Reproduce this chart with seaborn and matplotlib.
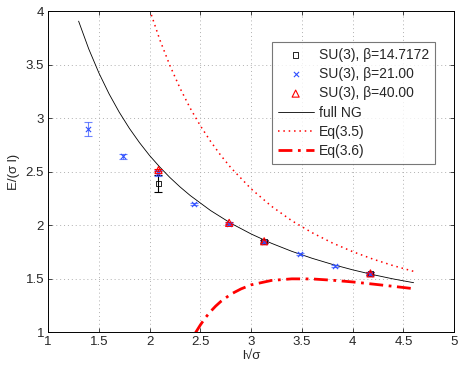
import numpy as np
import pandas as pd
import matplotlib
matplotlib.use("Agg")
import matplotlib.pyplot as plt
import seaborn as sns

# lattice data
x_b147 = [2.087, 3.128, 4.175]
y_b147 = [2.391, 1.848, 1.548]
e_b147 = [0.078, 0.012, 0.015]

x_b21 = [1.391, 1.739, 2.087, 2.435, 2.783, 3.128, 3.483, 3.828, 4.175]
y_b21 = [2.900, 2.643, 2.485, 2.201, 2.008, 1.846, 1.734, 1.622, 1.547]
e_b21 = [0.067, 0.025, 0.030, 0.008, 0.010, 0.010, 0.008, 0.008, 0.010]

x_b40 = [2.087, 2.783, 3.128, 4.175]
y_b40 = [2.515, 2.022, 1.850, 1.550]
e_b40 = [0.012, 0.010, 0.010, 0.010]

# curves
x_ng = [1.3, 1.4, 1.5, 1.6, 1.7, 1.8, 1.9, 2.0, 2.1, 2.2, 2.3, 2.4, 2.6, 2.8,
        3.0, 3.2, 3.4, 3.6, 3.8, 4.0, 4.2, 4.4, 4.6]
y_ng = [3.906, 3.646, 3.422, 3.227, 3.056, 2.905, 2.771, 2.650, 2.543, 2.445,
        2.357, 2.277, 2.137, 2.018, 1.918, 1.831, 1.756, 1.691, 1.634, 1.583,
        1.538, 1.498, 1.463]

x_35 = [2.0, 2.1, 2.2, 2.3, 2.4, 2.5, 2.6, 2.7, 2.8, 3.0, 3.2, 3.4, 3.6, 3.8,
        4.0, 4.2, 4.4, 4.6]
y_35 = [4.012, 3.732, 3.490, 3.278, 3.092, 2.928, 2.783, 2.653, 2.537, 2.339,
        2.177, 2.042, 1.930, 1.834, 1.753, 1.683, 1.622, 1.569]

x_36 = [2.45, 2.5, 2.55, 2.6, 2.65, 2.7, 2.8, 2.9, 3.0, 3.2, 3.4, 3.6, 3.8,
        4.0, 4.2, 4.4, 4.6]
y_36 = [0.993, 1.069, 1.137, 1.194, 1.244, 1.287, 1.356, 1.405, 1.443, 1.484,
        1.499, 1.498, 1.486, 1.470, 1.450, 1.429, 1.407]

sns.set_style("ticks")
plt.rcParams['font.family'] = ['Liberation Sans', 'DejaVu Sans']
plt.rcParams['font.size'] = 9.5

fig = plt.figure(figsize=(4.63, 3.70), dpi=100)
ax = fig.add_axes([0.104, 0.102, 0.877, 0.868])

blue = '#3050ff'

ax.errorbar(x_b147, y_b147, yerr=e_b147, fmt='none', ecolor='black', elinewidth=0.8, capsize=3, capthick=0.8, zorder=3)
ax.errorbar(x_b21, y_b21, yerr=e_b21, fmt='none', ecolor=blue, elinewidth=0.8, capsize=3, capthick=0.8, zorder=3, alpha=0.7)
ax.errorbar(x_b40, y_b40, yerr=e_b40, fmt='none', ecolor='red', elinewidth=0.8, capsize=3, capthick=0.8, zorder=3)

sns.scatterplot(x=x_b147, y=y_b147, marker='s', s=16, facecolor='none', edgecolor='black', linewidth=0.6,
                ax=ax, label='SU(3), β=14.7172', zorder=4)
sns.scatterplot(x=x_b21, y=y_b21, marker='x', s=14, color=blue, linewidth=0.8,
                ax=ax, label='SU(3), β=21.00', zorder=4)
sns.scatterplot(x=x_b40, y=y_b40, marker='^', s=26, facecolor='none', edgecolor='red', linewidth=0.8,
                ax=ax, label='SU(3), β=40.00', zorder=4)

sns.lineplot(x=x_ng, y=y_ng, color='black', linewidth=0.6, ax=ax, label='full NG', sort=False)
sns.lineplot(x=x_35, y=y_35, color='red', linewidth=1.1, linestyle=(0, (1, 2.5)), ax=ax, label='Eq(3.5)', sort=False)
sns.lineplot(x=x_36, y=y_36, color='red', linewidth=2.0, linestyle=(0, (5, 2, 1, 2)), ax=ax, label='Eq(3.6)', sort=False)

ax.set_xlim(1, 5)
ax.set_ylim(1, 4)
ax.set_xticks([1, 1.5, 2, 2.5, 3, 3.5, 4, 4.5, 5])
ax.set_xticklabels(['1', '1.5', '2', '2.5', '3', '3.5', '4', '4.5', '5'])
ax.set_yticks([1, 1.5, 2, 2.5, 3, 3.5, 4])
ax.set_yticklabels(['1', '1.5', '2', '2.5', '3', '3.5', '4'])
ax.grid(True, linestyle=(0, (1, 3)), color='#b0b0b0', linewidth=0.7)
ax.tick_params(direction='in', length=3, width=0.6, top=True, right=True, labelsize=9.5, pad=3)
for sp in ax.spines.values():
    sp.set_visible(True)
    sp.set_linewidth(0.7)
    sp.set_color('black')

ax.set_xlabel('l√σ', labelpad=1)
ax.set_ylabel('E/(σ l)', labelpad=4)

leg = ax.legend(loc='upper right', bbox_to_anchor=(0.97, 0.925), frameon=True, fancybox=False,
                edgecolor='#555555', handlelength=2.6, handletextpad=0.4, borderpad=0.4,
                labelspacing=0.38, fontsize=10)
leg.get_frame().set_linewidth(0.8)

fig.savefig('out.png', dpi=100)
